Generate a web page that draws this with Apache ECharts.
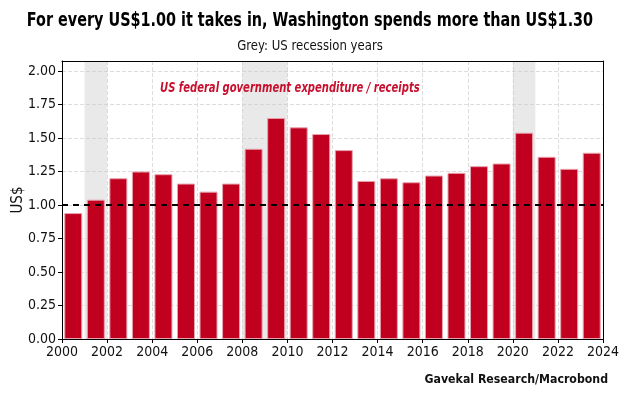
<!DOCTYPE html>
<html>
<head>
<meta charset="utf-8">
<script src="https://cdn.jsdelivr.net/npm/echarts@6/dist/echarts.min.js"></script>
<style>
  html, body { margin: 0; padding: 0; background: #fff; }
  #chart { width: 620px; height: 400px; }
</style>
</head>
<body>
<div id="chart"></div>
<script>
// fiscal years and expenditure / receipts ratio
var years = [2000, 2001, 2002, 2003, 2004, 2005, 2006, 2007, 2008, 2009, 2010, 2011,
             2012, 2013, 2014, 2015, 2016, 2017, 2018, 2019, 2020, 2021, 2022, 2023];
var ratio = [0.94, 1.04, 1.20, 1.25, 1.23, 1.16, 1.10, 1.16, 1.42, 1.65, 1.58, 1.53,
             1.41, 1.18, 1.20, 1.17, 1.22, 1.24, 1.29, 1.31, 1.54, 1.36, 1.27, 1.39];
// recession spans (start, end)
var recessions = [[2001, 2002], [2008, 2010], [2020, 2021]];
var yTicks = [0, 0.25, 0.5, 0.75, 1, 1.25, 1.5, 1.75, 2];

var font = '"DejaVu Sans Condensed", "Liberation Sans Narrow", sans-serif';
var red = '#c10020';

var myChart = echarts.init(document.getElementById('chart'));

var barData = years.map(function (y, i) { return [y + 0.5, ratio[i]]; });

// plain frame axes for top / right border
var frameX = {
    type: 'value', position: 'top', min: 2000, max: 2024, z: 5,
    axisLine: { show: true, onZero: false, lineStyle: { color: '#000' } },
    axisTick: { show: false }, axisLabel: { show: false }, splitLine: { show: false }
};
var frameY = {
    type: 'value', position: 'right', min: 0, max: 2.075, z: 5,
    axisLine: { show: true, onZero: false, lineStyle: { color: '#000' } },
    axisTick: { show: false }, axisLabel: { show: false }, splitLine: { show: false }
};

myChart.setOption({
    animation: false,
    textStyle: { fontFamily: font },
    grid: { left: 62, right: 17, top: 61, bottom: 61, outerBoundsMode: 'none', containLabel: false },
    xAxis: [
        {
            type: 'value',
            min: 2000, max: 2024, interval: 2,
            axisLine: { onZero: false, lineStyle: { color: '#000' } },
            axisTick: { length: 4, lineStyle: { color: '#000' } },
            axisLabel: {
                color: '#111', fontSize: 14, fontFamily: font, margin: 6,
                formatter: function (v) { return String(v); }
            },
            splitLine: { show: true, lineStyle: { color: '#ddd', type: 'dashed' } }
        },
        frameX
    ],
    yAxis: [
        {
            type: 'value',
            min: 0, max: 2.075, interval: 0.25,
            axisLine: { show: true, lineStyle: { color: '#000' } },
            axisTick: { show: true, length: 4, lineStyle: { color: '#000' } },
            axisLabel: {
                color: '#111', fontSize: 14, fontFamily: font, margin: 6,
                showMaxLabel: false,
                formatter: function (v) { return yTicks.indexOf(v) >= 0 ? v.toFixed(2) : ''; }
            },
            splitLine: { show: true, lineStyle: { color: '#ddd', type: 'dashed' } }
        },
        frameY
    ],
    graphic: [
        {
            type: 'text', x: 310, y: 21, scaleX: 0.842,
            style: {
                text: 'For every US$1.00 it takes in, Washington spends more than US$1.30',
                fill: '#000', font: 'bold 19px ' + font,
                textAlign: 'center', textVerticalAlign: 'middle'
            }
        },
        {
            type: 'text', x: 310, y: 46, scaleX: 0.93,
            style: {
                text: 'Grey: US recession years',
                fill: '#111', font: '14px ' + font,
                textAlign: 'center', textVerticalAlign: 'middle'
            }
        },
        {
            type: 'text', x: 18, y: 200, rotation: Math.PI / 2,
            style: {
                text: 'US$',
                fill: '#111', font: '15px ' + font,
                textAlign: 'center', textVerticalAlign: 'middle'
            }
        },
        {
            type: 'text', x: 160, y: 88, scaleX: 0.795, z: 10,
            style: {
                text: 'US federal government expenditure / receipts',
                fill: '#c8102e', font: 'italic bold 14px ' + font,
                textAlign: 'left', textVerticalAlign: 'middle'
            }
        },
        {
            type: 'text', x: 608, y: 380, scaleX: 0.94,
            style: {
                text: 'Gavekal Research/Macrobond',
                fill: '#111', font: 'bold 13px ' + font,
                textAlign: 'right', textVerticalAlign: 'middle'
            }
        }
    ],
    series: [
        {
            type: 'bar',
            data: barData,
            barWidth: 18,
            itemStyle: { color: red, borderColor: '#e7a3ad', borderWidth: 1 },
            markArea: {
                silent: true,
                itemStyle: { color: 'rgba(200,200,200,0.4)' },
                data: recessions.map(function (r) { return [{ xAxis: r[0] }, { xAxis: r[1] }]; })
            },
            markLine: {
                silent: true,
                symbol: 'none',
                label: { show: false },
                lineStyle: { color: '#000', type: [6, 5], width: 2 },
                data: [{ yAxis: 1 }]
            },
            z: 3
        }
    ]
});
</script>
</body>
</html>
